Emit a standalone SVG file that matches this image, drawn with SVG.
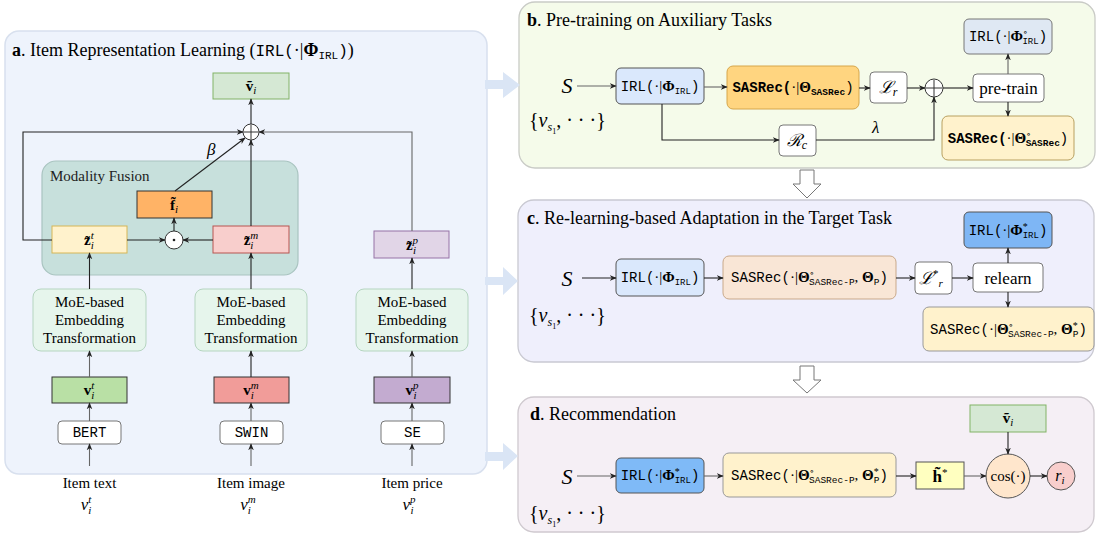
<svg xmlns="http://www.w3.org/2000/svg" width="1096" height="536" viewBox="0 0 1096 536" font-family="'Liberation Serif', serif">
<defs>
<style>
.sf{font-family:"Liberation Serif","Times New Roman","DejaVu Serif",serif}
.mo{font-family:"Liberation Mono","Courier New","DejaVu Sans Mono",monospace}
.it{font-style:italic}
.b{font-weight:bold}
.ln{stroke:#222;stroke-width:1.1;fill:none}
.lg{stroke:#666;stroke-width:1.1;fill:none}
.wbox{fill:#fff;stroke:#777;stroke-width:1}
.t14{font-size:14px}
.t15{font-size:15px}
.big{fill:#dae5f5}
.hol{fill:#fff;stroke:#777;stroke-width:1}
</style>
<marker id="ah" viewBox="0 0 10 10" refX="9" refY="5" markerWidth="7" markerHeight="7" orient="auto" markerUnits="userSpaceOnUse">
<path d="M0,1 L10,5 L0,9 L3,5 z" fill="#222"/>
</marker>
</defs>

<!-- panels -->
<g id="panel-a">
<rect x="5" y="31" width="482" height="443" rx="14" fill="#eef3fc" stroke="#d8e0ee" stroke-width="1.5"/>
<text x="12" y="56" class="sf" font-size="18"><tspan class="b">a</tspan>. Item Representation Learning (<tspan class="mo" font-size="16">IRL(</tspan>·|<tspan class="b">Φ</tspan><tspan class="mo" font-size="11" dy="3">IRL</tspan><tspan class="mo" font-size="16" dy="-3">)</tspan>)</text>
</g>
<g id="panel-b">
<rect x="519" y="2" width="576" height="166" rx="16" fill="#f5fbea" stroke="#c9cbc6" stroke-width="1.3"/>
<text x="527" y="26" class="sf" font-size="18"><tspan class="b">b</tspan>. Pre-training on Auxiliary Tasks</text>
</g>
<g id="panel-c">
<rect x="518" y="200" width="576" height="162" rx="16" fill="#efeffc" stroke="#c9c9d2" stroke-width="1.3"/>
<text x="527" y="224" class="sf" font-size="18"><tspan class="b">c</tspan>. Re-learning-based Adaptation in the Target Task</text>
</g>
<g id="panel-d">
<rect x="518" y="397" width="576" height="135" rx="16" fill="#f5eff5" stroke="#cfc9cf" stroke-width="1.3"/>
<text x="530" y="420" class="sf" font-size="18"><tspan class="b">d</tspan>. Recommendation</text>
</g>

<!-- big arrows between panels -->
<g id="flow-arrows">
<polygon class="big" points="485,80 503,80 503,72 520,85 503,98 503,89 485,89"/>
<polygon class="big" points="485,277 503,277 503,267 518,281 503,295 503,285 485,285"/>
<polygon class="big" points="485,452 503,452 503,443 518,456 503,470 503,461 485,461"/>
<polygon class="hol" points="800,170 814,170 814,184 821,184 807,198 793,184 800,184"/>
<polygon class="hol" points="800,366 814,366 814,380 821,380 807,393 793,380 800,380"/>
</g>

<!-- panel a nodes -->
<g id="fusion">
<rect x="42" y="161" width="256" height="114" rx="14" fill="#c7e0dc" stroke="#a9c4c0" stroke-width="1.2"/>
<text x="50" y="181" class="sf t15" fill="#222">Modality Fusion</text>
</g>
<g id="v-tilde-a">
<rect x="213" y="73" width="76" height="26" fill="#d5e8d4" stroke="#82b366"/>
<text x="251" y="91" text-anchor="middle" class="sf t15"><tspan class="b">ṽ</tspan><tspan class="it" font-size="11" dy="3">i</tspan></text>
</g>
<g id="plus-a">
<circle cx="251" cy="132" r="8" fill="#fff" stroke="#333"/>
<path d="M244,132 H258 M251,125 V139" stroke="#333" stroke-width="1"/>
</g>
<g id="f-tilde">
<rect x="137" y="191" width="75" height="27" fill="#ffb366" stroke="#333"/>
<text x="174" y="210" text-anchor="middle" class="sf t15"><tspan class="b">f̃</tspan><tspan class="it" font-size="11" dy="3">i</tspan></text>
</g>
<g id="odot">
<circle cx="174" cy="240" r="9" fill="#fff" stroke="#333"/>
<circle cx="174" cy="240" r="1.3" fill="#222"/>
</g>
<g id="z-t">
<rect x="52" y="226" width="75" height="27" fill="#fff2cc" stroke="#d6b656"/>
<text x="89" y="245" text-anchor="middle" class="sf t15"><tspan class="b">z̃</tspan><tspan class="it" font-size="11" dy="-6">t</tspan><tspan class="it" font-size="11" dx="-3" dy="10">i</tspan></text>
</g>
<g id="z-m">
<rect x="213" y="226" width="76" height="27" fill="#f8cecc" stroke="#b85450"/>
<text x="251" y="245" text-anchor="middle" class="sf t15"><tspan class="b">z̃</tspan><tspan class="it" font-size="11" dy="-6">m</tspan><tspan class="it" font-size="11" dx="-8" dy="10">i</tspan></text>
</g>
<g id="z-p">
<rect x="374" y="231" width="75" height="27" fill="#e1d5e7" stroke="#9673a6"/>
<text x="412" y="250" text-anchor="middle" class="sf t15"><tspan class="b">z̃</tspan><tspan class="it" font-size="11" dy="-6">p</tspan><tspan class="it" font-size="11" dx="-5" dy="10">i</tspan></text>
</g>
<g id="moe-t">
<rect x="33" y="289" width="113" height="62" rx="8" fill="#e6f5ec" stroke="#b5d5c0"/>
<text x="89.5" y="307" text-anchor="middle" class="sf t15"><tspan x="89.5">MoE-based</tspan><tspan x="89.5" dy="18">Embedding</tspan><tspan x="89.5" dy="18">Transformation</tspan></text>
</g>
<g id="moe-m">
<rect x="195" y="289" width="112" height="62" rx="8" fill="#e6f5ec" stroke="#b5d5c0"/>
<text x="251" y="307" text-anchor="middle" class="sf t15"><tspan x="251">MoE-based</tspan><tspan x="251" dy="18">Embedding</tspan><tspan x="251" dy="18">Transformation</tspan></text>
</g>
<g id="moe-p">
<rect x="356" y="289" width="112" height="62" rx="8" fill="#e6f5ec" stroke="#b5d5c0"/>
<text x="412" y="307" text-anchor="middle" class="sf t15"><tspan x="412">MoE-based</tspan><tspan x="412" dy="18">Embedding</tspan><tspan x="412" dy="18">Transformation</tspan></text>
</g>
<g id="v-t">
<rect x="52" y="377" width="75" height="26" fill="#b9e0a5" stroke="#333"/>
<text x="89" y="395" text-anchor="middle" class="sf t15"><tspan class="b">v</tspan><tspan class="it" font-size="11" dy="-6">t</tspan><tspan class="it" font-size="11" dx="-3" dy="10">i</tspan></text>
</g>
<g id="v-m">
<rect x="214" y="377" width="75" height="26" fill="#f19c99" stroke="#333"/>
<text x="251" y="395" text-anchor="middle" class="sf t15"><tspan class="b">v</tspan><tspan class="it" font-size="11" dy="-6">m</tspan><tspan class="it" font-size="11" dx="-8" dy="10">i</tspan></text>
</g>
<g id="v-p">
<rect x="374" y="377" width="76" height="26" fill="#c3abd0" stroke="#333"/>
<text x="412" y="395" text-anchor="middle" class="sf t15"><tspan class="b">v</tspan><tspan class="it" font-size="11" dy="-6">p</tspan><tspan class="it" font-size="11" dx="-5" dy="10">i</tspan></text>
</g>
<g id="bert">
<rect x="58" y="421" width="63" height="23" rx="4" class="wbox"/>
<text x="89.5" y="437" text-anchor="middle" class="mo t14">BERT</text>
</g>
<g id="swin">
<rect x="220" y="421" width="63" height="23" rx="4" class="wbox"/>
<text x="251.5" y="437" text-anchor="middle" class="mo t14">SWIN</text>
</g>
<g id="se">
<rect x="381" y="421" width="63" height="23" rx="4" class="wbox"/>
<text x="412.5" y="437" text-anchor="middle" class="mo t14">SE</text>
</g>
<g id="inputs">
<text x="89.5" y="488" text-anchor="middle" class="sf t15">Item text</text>
<text x="251" y="488" text-anchor="middle" class="sf t15">Item image</text>
<text x="412" y="488" text-anchor="middle" class="sf t15">Item price</text>
<text x="86" y="510" text-anchor="middle" class="sf" font-size="17"><tspan class="it">v</tspan><tspan class="it" font-size="11" dy="-7">t</tspan><tspan class="it" font-size="11" dx="-3" dy="11">i</tspan></text>
<text x="248" y="510" text-anchor="middle" class="sf" font-size="17"><tspan class="it">v</tspan><tspan class="it" font-size="11" dy="-7">m</tspan><tspan class="it" font-size="11" dx="-8" dy="11">i</tspan></text>
<text x="409" y="510" text-anchor="middle" class="sf" font-size="17"><tspan class="it">v</tspan><tspan class="it" font-size="11" dy="-7">p</tspan><tspan class="it" font-size="11" dx="-5" dy="11">i</tspan></text>
</g>

<!-- panel b nodes -->
<g id="b-S">
<text x="567" y="93" text-anchor="middle" class="sf it" font-size="22">S</text>
<text x="529" y="127" class="sf" font-size="20">{<tspan class="it">v</tspan><tspan class="it" font-size="12" dy="4">s</tspan><tspan font-size="8" dy="3">1</tspan><tspan dy="-7">, · · ·}</tspan></text>
</g>
<g id="b-irl">
<rect x="616" y="68" width="88" height="36" rx="5" fill="#dae8fc" stroke="#555"/>
<text x="660" y="91" text-anchor="middle" class="sf" font-size="15"><tspan class="mo" font-size="14">IRL(</tspan>·|<tspan class="b">Φ</tspan><tspan class="mo" font-size="9" dy="3">IRL</tspan><tspan class="mo" font-size="14" dy="-3">)</tspan></text>
</g>
<g id="b-sasrec">
<rect x="727" y="66" width="132" height="43" rx="6" fill="#ffd580" stroke="#d6a64a"/>
<text x="793" y="92" text-anchor="middle" class="sf" font-size="15"><tspan class="mo b" font-size="14">SASRec(</tspan>·|<tspan class="b">Θ</tspan><tspan class="mo b" font-size="9.5" dy="3">SASRec</tspan><tspan class="mo" font-size="14" dy="-3">)</tspan></text>
</g>
<g id="b-lr">
<rect x="870" y="72" width="37" height="31" rx="4" class="wbox"/>
<text x="888" y="93" text-anchor="middle" class="sf" font-size="17"><tspan class="it">ℒ</tspan><tspan class="it" font-size="12" dy="3">r</tspan></text>
</g>
<g id="b-plus">
<circle cx="934" cy="88" r="9" fill="#fff" stroke="#333"/>
<path d="M926,88 H942 M934,80 V96" stroke="#333" stroke-width="1"/>
</g>
<g id="b-pretrain">
<rect x="973" y="74" width="71" height="28" rx="4" class="wbox"/>
<text x="1008.5" y="94" text-anchor="middle" class="sf" font-size="17">pre-train</text>
</g>
<g id="b-irl0">
<rect x="964" y="19" width="88" height="35" rx="5" fill="#dfe8f3" stroke="#777"/>
<text x="1008" y="41" text-anchor="middle" class="sf" font-size="15"><tspan class="mo" font-size="14">IRL(</tspan>·|<tspan class="b">Φ</tspan><tspan font-size="9" dy="-6">∘</tspan><tspan class="mo" font-size="9" dx="-5" dy="9">IRL</tspan><tspan class="mo" font-size="14" dy="-3">)</tspan></text>
</g>
<g id="b-sasrec0">
<rect x="942" y="116" width="132" height="44" rx="6" fill="#fff2cc" stroke="#b8a060"/>
<text x="1008" y="143" text-anchor="middle" class="sf" font-size="15"><tspan class="mo b" font-size="14">SASRec(</tspan>·|<tspan class="b">Θ</tspan><tspan font-size="9" dy="-6">∘</tspan><tspan class="mo b" font-size="9.5" dx="-5" dy="9">SASRec</tspan><tspan class="mo" font-size="14" dy="-3">)</tspan></text>
</g>
<g id="b-rc">
<rect x="779" y="125" width="37" height="31" rx="4" class="wbox"/>
<text x="797" y="146" text-anchor="middle" class="sf" font-size="17"><tspan class="it">ℛ</tspan><tspan class="it" font-size="12" dy="3">c</tspan></text>
</g>

<!-- panel c nodes -->
<g id="c-S">
<text x="567" y="286" text-anchor="middle" class="sf it" font-size="22">S</text>
<text x="529" y="322" class="sf" font-size="20">{<tspan class="it">v</tspan><tspan class="it" font-size="12" dy="4">s</tspan><tspan font-size="8" dy="3">1</tspan><tspan dy="-7">, · · ·}</tspan></text>
</g>
<g id="c-irl">
<rect x="616" y="259" width="88" height="37" rx="5" fill="#dae8fc" stroke="#555"/>
<text x="660" y="282" text-anchor="middle" class="sf" font-size="15"><tspan class="mo" font-size="14">IRL(</tspan>·|<tspan class="b">Φ</tspan><tspan class="mo" font-size="9" dy="3">IRL</tspan><tspan class="mo" font-size="14" dy="-3">)</tspan></text>
</g>
<g id="c-sasrec">
<rect x="723" y="256" width="173" height="43" rx="6" fill="#f9e6d6" stroke="#c9a98a"/>
<text x="809.5" y="282" text-anchor="middle" class="sf" font-size="15"><tspan class="mo" font-size="14">SASRec(</tspan>·|<tspan class="b">Θ</tspan><tspan font-size="9" dy="-6">∘</tspan><tspan class="mo" font-size="9.5" dx="-5" dy="9">SASRec-P</tspan><tspan dy="-3">, </tspan><tspan class="b">Θ</tspan><tspan class="mo" font-size="9.5" dy="3">P</tspan><tspan class="mo" font-size="14" dy="-3">)</tspan></text>
</g>
<g id="c-lr">
<rect x="915" y="262" width="37" height="32" rx="4" class="wbox"/>
<text x="931" y="284" text-anchor="middle" class="sf" font-size="17"><tspan class="it">ℒ</tspan><tspan font-size="11" dy="-7">*</tspan><tspan class="it" font-size="11" dy="10">r</tspan></text>
</g>
<g id="c-relearn">
<rect x="973" y="263" width="70" height="29" rx="4" class="wbox"/>
<text x="1008" y="284" text-anchor="middle" class="sf" font-size="17">relearn</text>
</g>
<g id="c-irlstar">
<rect x="964" y="212" width="88" height="36" rx="5" fill="#7eb6f5" stroke="#555"/>
<text x="1008" y="235" text-anchor="middle" class="sf" font-size="15"><tspan class="mo" font-size="14">IRL(</tspan>·|<tspan class="b">Φ</tspan><tspan font-size="10" dy="-5">*</tspan><tspan class="mo" font-size="9" dx="-5" dy="8">IRL</tspan><tspan class="mo" font-size="14" dy="-3">)</tspan></text>
</g>
<g id="c-sasrecstar">
<rect x="923" y="307" width="171" height="44" rx="6" fill="#fff2cc" stroke="#999"/>
<text x="1008.5" y="334" text-anchor="middle" class="sf" font-size="15"><tspan class="mo" font-size="14">SASRec(</tspan>·|<tspan class="b">Θ</tspan><tspan font-size="9" dy="-6">∘</tspan><tspan class="mo" font-size="9.5" dx="-5" dy="9">SASRec-P</tspan><tspan dy="-3">, </tspan><tspan class="b">Θ</tspan><tspan font-size="10" dy="-5">*</tspan><tspan class="mo" font-size="9.5" dx="-5" dy="8">P</tspan><tspan class="mo" font-size="14" dy="-3">)</tspan></text>
</g>

<!-- panel d nodes -->
<g id="d-S">
<text x="567" y="484" text-anchor="middle" class="sf it" font-size="22">S</text>
<text x="529" y="520" class="sf" font-size="20">{<tspan class="it">v</tspan><tspan class="it" font-size="12" dy="4">s</tspan><tspan font-size="8" dy="3">1</tspan><tspan dy="-7">, · · ·}</tspan></text>
</g>
<g id="d-irlstar">
<rect x="616" y="458" width="88" height="35" rx="5" fill="#7fbaf7" stroke="#555"/>
<text x="660" y="480" text-anchor="middle" class="sf" font-size="15"><tspan class="mo" font-size="14">IRL(</tspan>·|<tspan class="b">Φ</tspan><tspan font-size="10" dy="-5">*</tspan><tspan class="mo" font-size="9" dx="-5" dy="8">IRL</tspan><tspan class="mo" font-size="14" dy="-3">)</tspan></text>
</g>
<g id="d-sasrec">
<rect x="723" y="453" width="173" height="44" rx="6" fill="#fff2cc" stroke="#999"/>
<text x="809.5" y="480" text-anchor="middle" class="sf" font-size="15"><tspan class="mo" font-size="14">SASRec(</tspan>·|<tspan class="b">Θ</tspan><tspan font-size="9" dy="-6">∘</tspan><tspan class="mo" font-size="9.5" dx="-5" dy="9">SASRec-P</tspan><tspan dy="-3">, </tspan><tspan class="b">Θ</tspan><tspan font-size="10" dy="-5">*</tspan><tspan class="mo" font-size="9.5" dx="-5" dy="8">P</tspan><tspan class="mo" font-size="14" dy="-3">)</tspan></text>
</g>
<g id="d-h">
<rect x="916" y="462" width="48" height="27" fill="#ffffc0" stroke="#555"/>
<text x="940" y="482" text-anchor="middle" class="sf" font-size="17"><tspan class="b">h̃</tspan><tspan font-size="11" dy="-6">*</tspan></text>
</g>
<g id="d-cos">
<circle cx="1008" cy="476" r="22" fill="#ffe6cc" stroke="#555"/>
<text x="1008" y="481" text-anchor="middle" class="sf" font-size="15">cos(·)</text>
</g>
<g id="d-r">
<circle cx="1061" cy="476" r="14" fill="#f8cecc" stroke="#555"/>
<text x="1060" y="481" text-anchor="middle" class="sf" font-size="16"><tspan class="it">r</tspan><tspan class="it" font-size="11" dy="3">i</tspan></text>
</g>
<g id="d-v">
<rect x="970" y="405" width="76" height="27" fill="#d5e8d4" stroke="#82b366"/>
<text x="1008" y="423" text-anchor="middle" class="sf t15"><tspan class="b">ṽ</tspan><tspan class="it" font-size="11" dy="3">i</tspan></text>
</g>

<!-- connectors -->
<g id="connectors">
<path class="ln" d="M251,124 V99" marker-end="url(#ah)"/>
<path class="ln" d="M52,240 H23 V132 H243" marker-end="url(#ah)"/>
<path class="ln" d="M127,240 H165" marker-end="url(#ah)"/>
<path class="ln" d="M213,240 H183" marker-end="url(#ah)"/>
<path class="ln" d="M174,231 V218" marker-end="url(#ah)"/>
<path class="ln" d="M175,191 L245,138" marker-end="url(#ah)"/>
<text x="207" y="155" class="sf it" font-size="17">β</text>
<path class="ln" d="M251,226 V140" marker-end="url(#ah)"/>
<path class="lg" d="M412,231 V132 H259" marker-end="url(#ah)"/>
<path class="ln" d="M89.5,289 V253" marker-end="url(#ah)"/>
<path class="ln" d="M251,289 V253" marker-end="url(#ah)"/>
<path class="ln" d="M412,289 V258" marker-end="url(#ah)"/>
<path class="lg" d="M89.5,377 V351" marker-end="url(#ah)"/>
<path class="ln" d="M251,377 V351" marker-end="url(#ah)"/>
<path class="lg" d="M412,377 V351" marker-end="url(#ah)"/>
<path class="lg" d="M89.5,421 V403" marker-end="url(#ah)"/>
<path class="lg" d="M251,421 V403" marker-end="url(#ah)"/>
<path class="lg" d="M412,421 V403" marker-end="url(#ah)"/>
<path class="lg" d="M89.5,466 V444" marker-end="url(#ah)"/>
<path class="lg" d="M251,466 V444" marker-end="url(#ah)"/>
<path class="lg" d="M412,466 V444" marker-end="url(#ah)"/>

<path class="lg" d="M577,86 H616" marker-end="url(#ah)"/>
<path class="lg" d="M704,87 H727" marker-end="url(#ah)"/>
<path class="ln" d="M859,88 H870" marker-end="url(#ah)"/>
<path class="ln" d="M907,88 H925" marker-end="url(#ah)"/>
<path class="ln" d="M943,88 H973" marker-end="url(#ah)"/>
<path class="lg" d="M1008,74 V54" marker-end="url(#ah)"/>
<path class="ln" d="M1008,102 V116" marker-end="url(#ah)"/>
<path class="ln" d="M662,104 V140 H779" marker-end="url(#ah)"/>
<path class="ln" d="M816,140 H934 V97" marker-end="url(#ah)"/>
<text x="872" y="133" class="sf it" font-size="17">λ</text>

<path class="ln" d="M582,278 H616" marker-end="url(#ah)"/>
<path class="ln" d="M704,278 H723" marker-end="url(#ah)"/>
<path class="ln" d="M896,278 H915" marker-end="url(#ah)"/>
<path class="ln" d="M952,278 H973" marker-end="url(#ah)"/>
<path class="ln" d="M1008,263 V248" marker-end="url(#ah)"/>
<path class="ln" d="M1008,292 V307" marker-end="url(#ah)"/>

<path class="lg" d="M577,476 H616" marker-end="url(#ah)"/>
<path class="lg" d="M704,476 H723" marker-end="url(#ah)"/>
<path class="ln" d="M896,476 H916" marker-end="url(#ah)"/>
<path class="lg" d="M964,476 H986" marker-end="url(#ah)"/>
<path class="ln" d="M1030,476 H1047" marker-end="url(#ah)"/>
<path class="ln" d="M1008,432 V454" marker-end="url(#ah)"/>
</g>
</svg>
